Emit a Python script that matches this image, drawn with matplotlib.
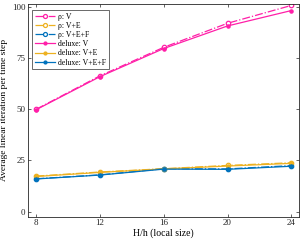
import matplotlib.pyplot as plt
import numpy as np

plt.rcParams['font.family'] = ['Liberation Serif', 'DejaVu Serif']

H = [8, 12, 16, 20, 24]

rho_V = [50.0, 66.3, 80.2, 91.9, 100.6]
rho_VE = [17.4, 19.4, 21.0, 22.6, 23.9]
rho_VEF = [16.1, 18.0, 21.0, 20.9, 22.5]
deluxe_V = [49.8, 65.9, 79.6, 90.6, 98.1]
deluxe_VE = [17.2, 19.2, 20.9, 22.3, 23.6]
deluxe_VEF = [16.0, 17.9, 20.8, 20.7, 22.2]

pink = '#ff1fa8'
yellow = '#edb120'
blue = '#0072bd'

fig = plt.figure(figsize=(3.01, 2.41), dpi=100)
ax = fig.add_axes([28.3 / 301, 1 - 216.7 / 241, 271 / 301, 212.7 / 241])

# rho: dash-dot with open circles
ax.plot(H, rho_V, color=pink, ls='-.', lw=0.9, marker='o', ms=3.2, mfc='white', mew=0.9, label='ρ: V')
ax.plot(H, rho_VE, color=yellow, ls='-.', lw=0.9, marker='o', ms=3.2, mfc='white', mew=0.9, label='ρ: V+E')
ax.plot(H, rho_VEF, color=blue, ls='-.', lw=0.9, marker='o', ms=3.2, mfc='white', mew=0.9, label='ρ: V+E+F')
# deluxe: solid with dots
ax.plot(H, deluxe_V, color=pink, ls='-', lw=0.9, marker='.', ms=4.5, label='deluxe: V')
ax.plot(H, deluxe_VE, color=yellow, ls='-', lw=0.9, marker='.', ms=4.5, label='deluxe: V+E')
ax.plot(H, deluxe_VEF, color=blue, ls='-', lw=0.9, marker='.', ms=4.5, label='deluxe: V+E+F')

ax.set_xlim(7.5, 24.5)
ax.set_ylim(-2.4, 101.3)
ax.set_xticks(H)
ax.set_yticks([0, 25, 50, 75, 100])
ax.tick_params(direction='in', top=True, right=True, labelsize=6.5, length=2.5,
               width=0.5, colors='#262626', pad=2)
for s in ax.spines.values():
    s.set_linewidth(0.6)
    s.set_color('#262626')

ax.set_xlabel('H/h (local size)', fontsize=7, labelpad=1)
ax.set_ylabel('Average linear iteration per time step', fontsize=6.8, labelpad=3)

leg = ax.legend(loc='upper left', bbox_to_anchor=(0.014, 0.972), fontsize=5.6,
                frameon=True, fancybox=False, edgecolor='#262626',
                handlelength=2.6, handletextpad=0.4, labelspacing=0.15,
                borderpad=0.35, borderaxespad=0, markerscale=0.9)
leg.get_frame().set_linewidth(0.6)

fig.savefig('out.png', dpi=100)
